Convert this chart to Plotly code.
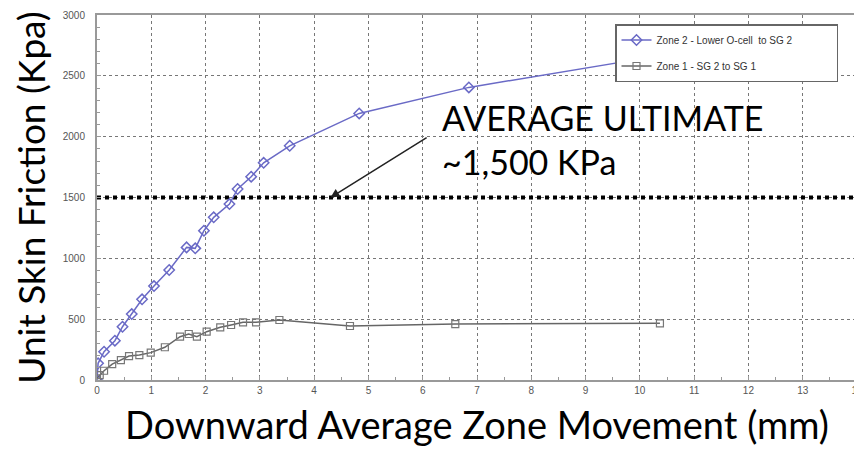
import plotly.graph_objects as go

# Zone 2 - Lower O-cell to SG 2
z2_x = [0.0, 0.02, 0.13, 0.33, 0.47, 0.64, 0.83, 1.05, 1.33, 1.65, 1.81, 1.97, 2.15, 2.44, 2.59, 2.84, 3.07, 3.55, 4.83, 6.85, 10.3]
z2_y = [0, 137, 232, 323, 438, 542, 663, 772, 904, 1090, 1082, 1227, 1337, 1446, 1570, 1671, 1785, 1925, 2191, 2405, 2660]

# Zone 1 - SG 2 to SG 1
z1_x = [0.0, 0.05, 0.13, 0.28, 0.44, 0.59, 0.78, 0.99, 1.25, 1.53, 1.69, 1.84, 2.02, 2.27, 2.47, 2.69, 2.93, 3.36, 4.66, 6.6, 10.37]
z1_y = [14, 40, 76, 131, 164, 197, 205, 225, 269, 356, 378, 356, 397, 433, 452, 474, 474, 493, 444, 460, 466]

avg_ultimate = 1500
x_ticks = list(range(0, 15))
y_ticks = [0, 500, 1000, 1500, 2000, 2500, 3000]

# page has an 8px body margin on every side
OFF = 8
W, H = 862 - OFF, 455 - 2 * OFF
L, R, T = 97 - OFF, 5, 15 - OFF
B = H - T - 365
pw = W - L - R
ph = H - T - B

PAD = "\u00a0" * 14

fig = go.Figure()

fig.add_trace(go.Scatter(
    x=[0, 14], y=[avg_ultimate, avg_ultimate], mode="lines",
    line=dict(color="black", width=4, dash="dot"), showlegend=False, hoverinfo="skip"))

fig.add_trace(go.Scatter(
    x=z2_x, y=z2_y, mode="lines+markers", name="Zone 2 - Lower O-cell  to SG 2" + PAD,
    legendgroup="z2",
    line=dict(color="#6a6ac6", width=1.5),
    marker=dict(symbol="diamond-open", size=8, color="#6a6ac6", line=dict(width=1.5))))

fig.add_trace(go.Scatter(
    x=z1_x, y=z1_y, mode="lines+markers", name="Zone 1 - SG 2 to SG 1",
    legendgroup="z1",
    line=dict(color="#666666", width=1.5),
    marker=dict(symbol="square-open", size=7, color="#777777", line=dict(width=1.2))))

fig.add_annotation(
    x=4.3, y=1500, ax=6.1, ay=2000, xref="x", yref="y", axref="x", ayref="y",
    text="", showarrow=True, arrowhead=2, arrowsize=1.2, arrowwidth=1.5, arrowcolor="#222")

fig.add_annotation(
    x=(440 - 97) / pw, y=(380 - 95) / ph, xref="paper", yref="paper",
    text="AVERAGE ULTIMATE<br>~1,500 KPa",
    showarrow=False, xanchor="left", yanchor="top", align="left",
    font=dict(family="Lato", size=34, color="black"))

fig.update_layout(
    width=W, height=H,
    margin=dict(l=L, r=R, t=T, b=B),
    paper_bgcolor="white", plot_bgcolor="white",
    showlegend=True,
    legend=dict(x=(615 - 97) / pw, y=(380 - 24) / ph, xanchor="left", yanchor="top",
                bgcolor="white", bordercolor="#666", borderwidth=1.5,
                font=dict(family="Liberation Sans Narrow, Arial", size=10, color="#333"),
                itemwidth=30, tracegroupgap=7),
    xaxis=dict(range=[0, 14], tickvals=x_ticks, showgrid=True, gridcolor="#777",
               griddash="dot", gridwidth=1, showline=True, linecolor="#999", linewidth=2,
               mirror=True, ticks="inside", ticklen=4, tickcolor="#999",
               minor=dict(dtick=0.5, ticks="inside", ticklen=3, tickcolor="#999", showgrid=False),
               tickfont=dict(family="Arial", size=10, color="#555"),
               ticklabeloverflow="allow",
               automargin=False,
               title=dict(text="Downward Average Zone Movement (mm)", standoff=28,
                          font=dict(family="Lato", size=38, color="black")),
               zeroline=False),
    yaxis=dict(range=[0, 3000], tickvals=y_ticks, showgrid=True, gridcolor="#777",
               griddash="dot", gridwidth=1, showline=True, linecolor="#999", linewidth=2,
               mirror=True, ticks="inside", ticklen=4, tickcolor="#999",
               minor=dict(dtick=100, ticks="inside", ticklen=3, tickcolor="#999", showgrid=False),
               tickfont=dict(family="Arial", size=10, color="#555"),
               ticklabelstandoff=8,
               automargin=False,
               title=dict(text="Unit Skin Friction (Kpa)", standoff=8,
                          font=dict(family="Lato", size=37, color="black")),
               zeroline=False),
)

fig.write_html("out.html")
